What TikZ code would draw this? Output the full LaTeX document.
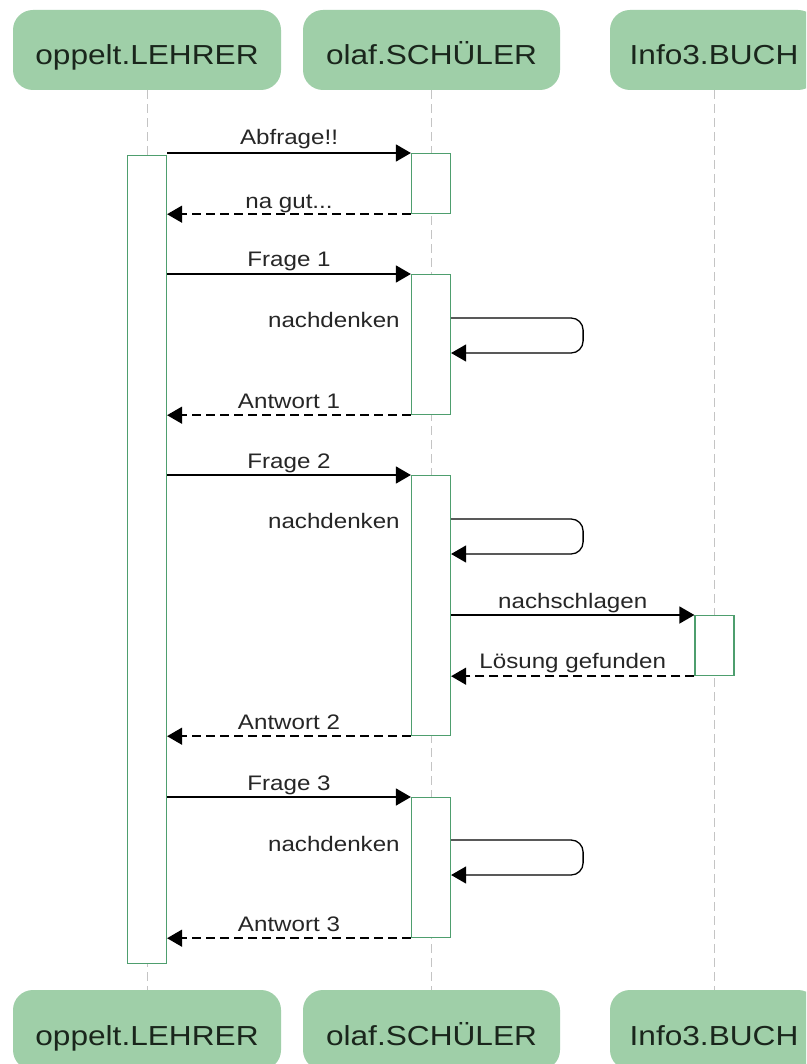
\documentclass[tikz,border=0pt]{standalone}
\usepackage{fontspec}
\setmainfont{Liberation Sans}[FakeStretch=1.15]
\usetikzlibrary{arrows.meta,calc}
\definecolor{hdrfill}{HTML}{9FCFA8}
\definecolor{hdrtext}{HTML}{1A261C}
\definecolor{actline}{HTML}{4E9E6E}
\definecolor{lifegray}{HTML}{C4C4C4}
\definecolor{lbl}{HTML}{262626}
\begin{document}
\begin{tikzpicture}[x=1pt,y=-1pt,
  hdr/.style={draw=none,fill=hdrfill,rounded corners=20pt,minimum height=80pt,inner sep=0pt,
    text height=30pt,text depth=0pt,
    text=hdrtext,font=\fontsize{27.5}{32}\selectfont},
  act/.style={draw=actline,line width=1.2pt,fill=white,minimum width=39pt,inner sep=0pt,anchor=north},
  life/.style={draw=lifegray,line width=0.9pt,dash pattern=on 9pt off 5pt},
  msg/.style={line width=1.5pt,-{Triangle[length=15pt,width=17pt]}},
  ret/.style={msg,dash pattern=on 9pt off 5pt},
  lab/.style={text=lbl,font=\fontsize{21}{24}\selectfont,inner sep=0pt},
]
\clip (0,0) rectangle (806,1064);
\fill[white] (0,0) rectangle (806,1064);
% headers
\node[hdr,minimum width=268pt] (hL) at (147,50) {oppelt.LEHRER};
\node[hdr,minimum width=257pt] (hS) at (431.5,50) {olaf.SCHÜLER};
\node[hdr,minimum width=208pt] (hB) at (714,50) {Info3.BUCH};
% footers
\node[hdr,minimum width=268pt] (fL) at (147,1030) {oppelt.LEHRER};
\node[hdr,minimum width=257pt] (fS) at (431.5,1030) {olaf.SCHÜLER};
\node[hdr,minimum width=208pt] (fB) at (714,1030) {Info3.BUCH};
% lifelines
\draw[life] (hL.south -| 147.5,0) -- (fL.north -| 147.5,0);
\draw[life] (hS.south -| 431.5,0) -- (fS.north -| 431.5,0);
\draw[life] (hB.south -| 714.5,0) -- (fB.north -| 714.5,0);
% activations
\node[act,minimum height=808pt] (aL) at (147,155) {};
\node[act,minimum height=60pt] (s1) at (431,153) {};
\node[act,minimum height=140pt] (s2) at (431,274) {};
\node[act,minimum height=260pt] (s3) at (431,475) {};
\node[act,minimum height=140pt] (s4) at (431,797) {};
\node[act,minimum height=60pt] (b1) at (714.5,615) {};
% messages
\draw[msg] (aL.east |- s1.north) -- (s1.north west) node[lab,midway,anchor=base,yshift=8pt] {Abfrage!!};
\draw[ret] (s1.south west) -- (aL.east |- s1.south) node[lab,midway,anchor=base,yshift=6pt] {na gut...};
\draw[msg] (aL.east |- s2.north) -- (s2.north west) node[lab,midway,anchor=base,yshift=7pt] {Frage 1};
\node[lab,anchor=base east] (n1) at ($(s2.north west)+(-11,53)$) {nachdenken};
\draw[msg,line width=1.3pt,rounded corners=12pt] ($(s2.north east)+(0,44)$) -- ++(132,0) -- ++(0,35) -- ($(s2.north east)+(0,79)$);
\draw[ret] (s2.south west) -- (aL.east |- s2.south) node[lab,midway,anchor=base,yshift=7pt] {Antwort 1};
\draw[msg] (aL.east |- s3.north) -- (s3.north west) node[lab,midway,anchor=base,yshift=7pt] {Frage 2};
\node[lab,anchor=base east] (n2) at ($(s3.north west)+(-11,53)$) {nachdenken};
\draw[msg,line width=1.3pt,rounded corners=12pt] ($(s3.north east)+(0,44)$) -- ++(132,0) -- ++(0,35) -- ($(s3.north east)+(0,79)$);
\draw[msg] (s3.east |- b1.north) -- (b1.north west) node[lab,midway,anchor=base,yshift=7pt] {nachschlagen};
\draw[ret] (b1.south west) -- (s3.east |- b1.south) node[lab,midway,anchor=base,yshift=8pt] {Lösung gefunden};
\draw[ret] (s3.south west) -- (aL.east |- s3.south) node[lab,midway,anchor=base,yshift=7pt] {Antwort 2};
\draw[msg] (aL.east |- s4.north) -- (s4.north west) node[lab,midway,anchor=base,yshift=7pt] {Frage 3};
\node[lab,anchor=base east] (n3) at ($(s4.north west)+(-11,54)$) {nachdenken};
\draw[msg,line width=1.3pt,rounded corners=12pt] ($(s4.north east)+(0,43)$) -- ++(132,0) -- ++(0,35) -- ($(s4.north east)+(0,78)$);
\draw[ret] (s4.south west) -- (aL.east |- s4.south) node[lab,midway,anchor=base,yshift=7pt] {Antwort 3};
\end{tikzpicture}
\end{document}
